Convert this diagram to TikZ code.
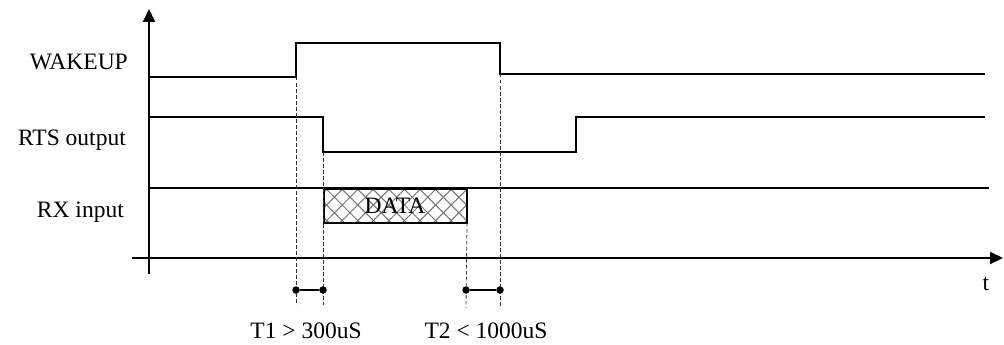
\documentclass[tikz,border=0pt]{standalone}
\usepackage{fontspec}
\setmainfont{Liberation Serif}
\usetikzlibrary{arrows.meta,patterns.meta}

\begin{document}
\begin{tikzpicture}[x=1pt,y=-1pt,
  sig/.style={line width=2pt, line join=miter},
  axis/.style={line width=2pt,-{Triangle[width=12pt,length=13pt]}},
  guide/.style={line width=0.8pt, dash pattern=on 3.5pt off 2.5pt, black!80},
  lbl/.style={font=\fontsize{23.5}{28}\selectfont, inner sep=0pt},
  dot/.style={circle, fill, inner sep=0pt, minimum size=7.5pt},
  span/.style={line width=2pt},
  hatch/.style={pattern color=black!55,
    preaction={pattern={Lines[angle=45,distance=11pt,line width=1pt]}, pattern color=black!55},
    pattern={Lines[angle=-45,distance=11pt,line width=1pt]}}]

\useasboundingbox (0,0) rectangle (1004,345);

% axes
\coordinate (ybot) at (149,274);
\coordinate (ytop) at (149,9);
\coordinate (xl) at (132,258);
\coordinate (xr) at (1003,258);
\draw[axis] (ybot) -- (ytop);
\draw[axis] (xl) -- (xr);
\node[lbl, anchor=base] (t) at (986,290) {t};

% signal names
\node[lbl, anchor=base east] (wlabel) at (128,69.5) {WAKEUP};
\node[lbl, anchor=base east] (rlabel) at (126,145) {RTS output};
\node[lbl, anchor=base east] (xlabel) at (124,217) {RX input};

% WAKEUP
\coordinate (w0) at (149,77);
\coordinate (w1) at (296,77);
\coordinate (w2) at (296,43);
\coordinate (w3) at (500,43);
\coordinate (w4) at (500,74);
\coordinate (w5) at (985,74);
\draw[sig] (w0) -- (w1) -- (w2) -- (w3) -- (w4) -- (w5);

% RTS output
\coordinate (r0) at (149,117);
\coordinate (r1) at (323,117);
\coordinate (r2) at (323,152);
\coordinate (r3) at (576,152);
\coordinate (r4) at (576,117);
\coordinate (r5) at (985,117);
\draw[sig] (r0) -- (r1) -- (r2) -- (r3) -- (r4) -- (r5);

% RX input
\coordinate (x0) at (149,188);
\coordinate (x1) at (989,188);
\node[draw, sig, hatch, anchor=north west, minimum width=143pt, minimum height=34pt,
      inner sep=0pt, font=\fontsize{23.5}{28}\selectfont] (data) at (323,188) {DATA};
\draw[sig] (x0) -- (x1);

% timing guides
\coordinate (g1) at (296,305);
\coordinate (g2) at (323,305);
\coordinate (g3) at (466,308);
\coordinate (g4) at (500,308);
\draw[guide] (w1) -- (g1);
\draw[guide] (r2) -- (g2);
\draw[guide] (data.south east) -- (g3);
\draw[guide] (w4) -- (g4);

% intervals
\node[dot] (d1) at (296,290) {};
\node[dot] (d2) at (323,290) {};
\node[dot] (d3) at (466,290) {};
\node[dot] (d4) at (500,290) {};
\draw[span] (d1) -- (d2);
\draw[span] (d3) -- (d4);

\node[lbl, anchor=base] (t1) at (306,338) {T1 > 300uS};
\node[lbl, anchor=base] (t2) at (486,338) {T2 < 1000uS};
\end{tikzpicture}
\end{document}
